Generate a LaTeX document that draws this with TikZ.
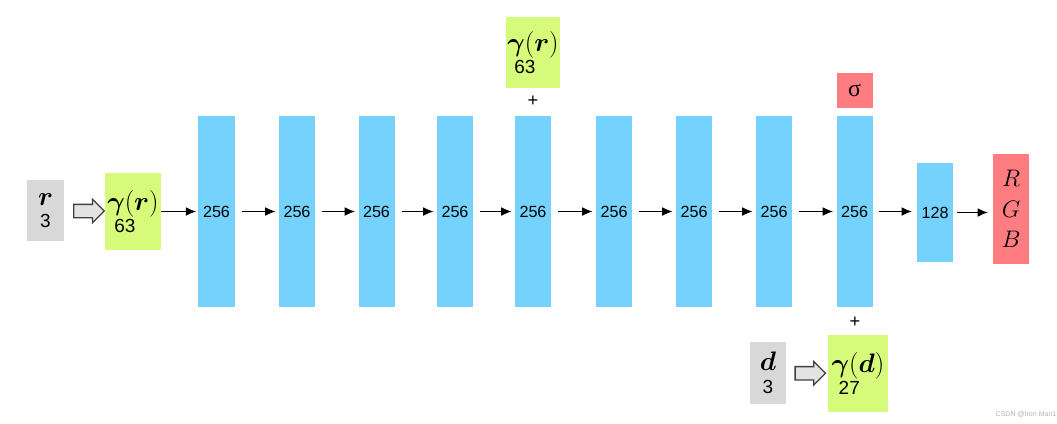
\documentclass[tikz,border=0pt]{standalone}
\usepackage{fix-cm}
\usepackage{amsmath, amssymb}
\usepackage{fontspec}
\setmainfont{Liberation Sans}
\newfontfamily\greekfont{Liberation Serif}
\usepackage{xcolor}
\usepackage{tikz}
\usetikzlibrary{calc, positioning, arrows.meta, shapes.arrows}
\definecolor{barblue}{RGB}{116,210,252}
\definecolor{encgreen}{RGB}{214,250,122}
\definecolor{ingray}{RGB}{216,216,216}
\definecolor{outred}{RGB}{255,124,128}
\newcommand{\bsym}[1]{{\fontsize{19}{20}\selectfont$\boldsymbol{#1}$}}
\newcommand{\gam}[1]{{\fontsize{19}{20}\selectfont$\boldsymbol{\gamma}(\boldsymbol{#1})$}}
\tikzset{
    layer/.style={rectangle, fill=barblue, minimum width=0.9cm, minimum height=4.75cm, inner sep=0pt, font=\fontsize{11.5}{13}\selectfont},
    inbox/.style={rectangle, fill=ingray, minimum width=0.9cm, minimum height=1.53cm, align=center, inner sep=0pt, font=\fontsize{13.5}{16}\selectfont},
    enc/.style={rectangle, fill=encgreen, minimum width=1.4cm, minimum height=1.9cm, align=left, inner sep=0pt, font=\fontsize{13.5}{16}\selectfont},
    outbox/.style={rectangle, fill=outred, minimum width=0.9cm, align=center, inner sep=0pt},
    arrow/.style={-{Latex[length=2.6mm, width=2.2mm]}, line width=0.8pt},
    hollow/.style={single arrow, draw=black!75, fill=gray!22, line width=0.9pt, minimum height=0.76cm, inner xsep=0pt, inner ysep=0.15cm, single arrow head extend=0.13cm, single arrow tip angle=90},
    plus/.style={font=\fontsize{13}{14}\selectfont, inner sep=0pt}
}

\begin{document}
\begin{tikzpicture}[x=0.025cm, y=-0.025cm]
    \useasboundingbox (0,0) rectangle (1057,423);

    % inputs and encodings
    \node[inbox] (r) at (45.5,210.5) {\bsym{r}\\3};
    \node[enc] (gr) at (133,211.5) {\gam{r}\\\hspace{5pt}63};
    \node[hollow] (ar) at ($(r.east)!0.5!(gr.west)+(1.5,0)$) {};

    \node[enc, minimum width=1.35cm, minimum height=1.775cm] (gr2) at (533,52.5) {\gam{r}\\\hspace{5pt}63};
    \node[plus] (plusTop) at (533,101) {+};

    \node[inbox, minimum height=1.55cm] (d) at (768,373) {\bsym{d}\\3};
    \node[enc, minimum width=1.5cm, minimum height=1.925cm] (gd) at (858,373.5) {\gam{d}\\\hspace{5pt}27};
    \node[hollow] (ad) at ($(d.east)!0.5!(gd.west)$) {};
    \node[plus] (plusBot) at (855,322) {+};

    % layers
    \foreach \x [count=\i] in {216.5,297,376.5,455,533,614,694,774,854.5}
        \node[layer] (L\i) at (\x,211.5) {256};
    \node[layer, minimum height=2.48cm] (L10) at (935,212.5) {128};

    % outputs
    \node[outbox, minimum height=0.875cm, font=\fontsize{17}{18}\selectfont] (sigma) at (854.5,90.5) {\greekfont σ};
    \node[outbox, minimum height=2.75cm, font=\fontsize{17}{21.5}\selectfont] (rgb) at (1011,209) {$R$\\$G$\\$B$};

    \draw[arrow, shorten >=0.05cm] (gr.east) -- (gr.east -| L1.west);
    \foreach \i/\j in {1/2,2/3,3/4,4/5,5/6,6/7,7/8,8/9}
        \draw[arrow, shorten <=0.17cm, shorten >=0.08cm] (L\i.east) -- (L\i.east -| L\j.west);
    \draw[arrow, shorten <=0.15cm, shorten >=0.12cm] (L9.east) -- (L9.east -| L10.west);
    \draw[arrow, shorten <=0.1cm, shorten >=0.12cm] (L10.east) -- (L10.east -| rgb.west);

    \node[font=\fontsize{5}{6}\selectfont, text=gray!60] (mark) at (1026,414) {CSDN @Iron Man1};
\end{tikzpicture}
\end{document}
